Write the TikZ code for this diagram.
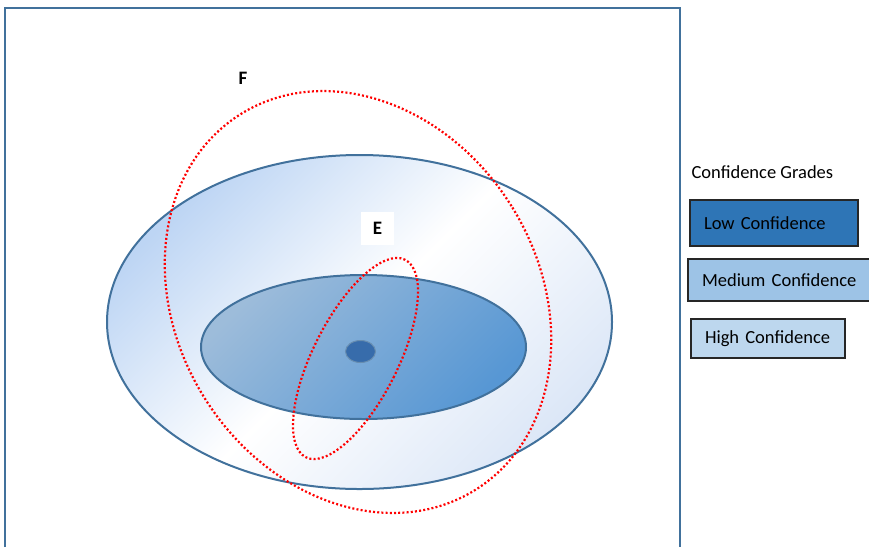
\documentclass[tikz,border=0pt]{standalone}
\usepackage{fontspec}
\setmainfont{Carlito}
\usetikzlibrary{shapes.geometric}

\definecolor{edgeblue}{HTML}{41719C}
\definecolor{outerA}{HTML}{BDD5F4}
\definecolor{outerB}{HTML}{DCE7F7}
\definecolor{innerA}{HTML}{9DBCDA}
\definecolor{innerB}{HTML}{5797D4}
\definecolor{coreblue}{HTML}{376CAB}
\definecolor{lowblue}{HTML}{2E75B6}
\definecolor{medblue}{HTML}{9DC3E6}
\definecolor{highblue}{HTML}{BDD7EE}

\begin{document}
\begin{tikzpicture}[
    x=1pt, y=-1pt,
    every node/.style={font=\fontsize{18.5}{22}\selectfont},
    zone/.style={
        ellipse,
        draw=edgeblue,
        line width=2pt,
        inner sep=0pt
    },
    bound/.style={
        ellipse,
        draw=red,
        line width=2.2pt,
        dash pattern=on 2pt off 2.2pt,
        inner sep=0pt
    },
    legbox/.style={
        draw=black!85,
        line width=2pt,
        anchor=north west,
        inner xsep=14pt,
        align=left
    },
    tag/.style={font=\fontsize{19}{22}\selectfont\bfseries}
]

    \useasboundingbox (0,0) rectangle (869,547);

    % Frame
    \draw[edgeblue, line width=2pt] (5,547) -- (5,8) -- (680,8) -- (680,547);

    % Grade zones
    \node[
        zone,
        top color=outerA,
        bottom color=outerB,
        middle color=white,
        shading angle=45,
        minimum width=505pt,
        minimum height=334pt
    ] (high) at (359.5,322) {};

    \node[
        zone,
        top color=innerA,
        bottom color=innerB,
        shading angle=45,
        minimum width=325pt,
        minimum height=144pt
    ] (medium) at (363.5,347) {};

    \node[
        ellipse,
        draw=edgeblue!80,
        fill=coreblue,
        line width=1pt,
        inner sep=0pt,
        minimum width=30pt,
        minimum height=22pt
    ] (low) at (360.5,351.5) {};

    % Error bounds
    \node[bound, minimum width=362pt, minimum height=443pt, rotate=32] (boundF) at (358,302) {};
    \node[bound, minimum width=85pt, minimum height=221pt, rotate=-26.7] (boundE) at (355.5,358.5) {};

    % Labels
    \node[tag] (tagF) at (243,78) {F};
    \node[tag, fill=white, minimum size=33pt] (tagE) at (377.5,228.5) {E};

    % Legend
    \node[anchor=west] (legtitle) at (688,172) {Confidence Grades};
    \node[legbox, fill=lowblue, text width=140pt, minimum height=46pt] (leglow) at (689,199) {Low Confidence};
    \node[legbox, fill=medblue, text width=165pt, minimum height=42pt] (legmed) at (687,258) {Medium Confidence};
    \node[legbox, fill=highblue, text width=126pt, minimum height=39pt] (leghigh) at (690,318) {High Confidence};

\end{tikzpicture}
\end{document}
